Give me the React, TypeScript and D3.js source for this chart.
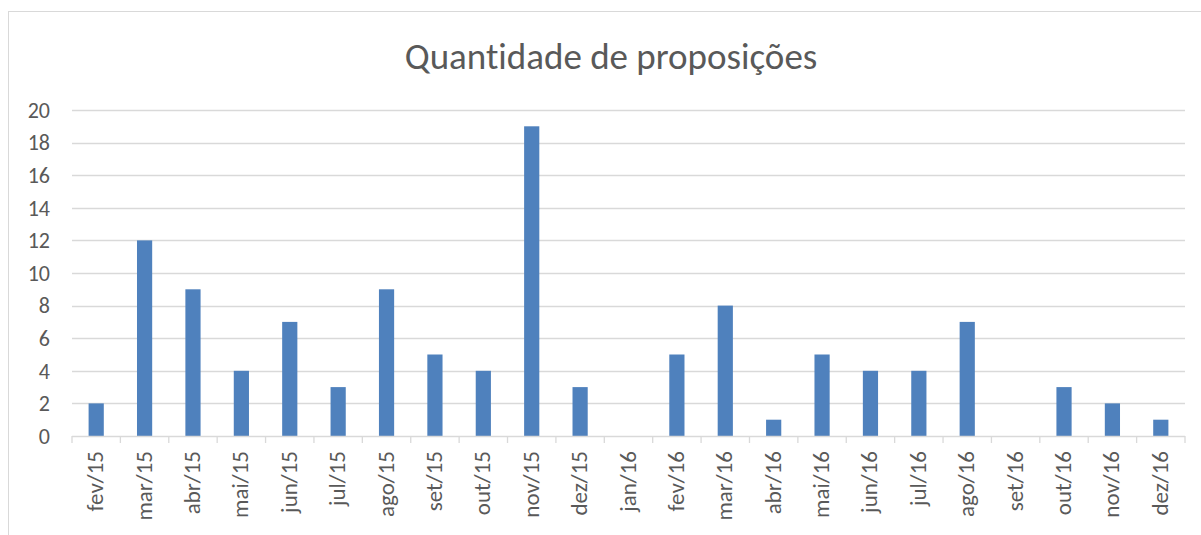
import * as d3 from 'd3'

const months = ['fev/15', 'mar/15', 'abr/15', 'mai/15', 'jun/15', 'jul/15', 'ago/15', 'set/15', 'out/15', 'nov/15', 'dez/15', 'jan/16', 'fev/16', 'mar/16', 'abr/16', 'mai/16', 'jun/16', 'jul/16', 'ago/16', 'set/16', 'out/16', 'nov/16', 'dez/16']
const counts = [2, 12, 9, 4, 7, 3, 9, 5, 4, 19, 3, 0, 5, 8, 1, 5, 4, 4, 7, 0, 3, 2, 1]
const yTicks = [0, 2, 4, 6, 8, 10, 12, 14, 16, 18, 20]
const title = 'Quantidade de proposições'

const font = "Calibri, Carlito, 'Open Sans', sans-serif"

const App = () => {
    const width = 1201
    const height = 535
    const left = 72
    const right = 1185
    const top = 110
    const bottom = 436

    const x = d3.scaleBand<string>()
        .domain(months)
        .range([left, right])
        .paddingInner(0.686)
        .paddingOuter(0.343)

    const xEdge = d3.scaleLinear()
        .domain([0, months.length])
        .range([left, right])

    const y = d3.scaleLinear()
        .domain([0, 20])
        .range([bottom, top])

    return (
        <svg width={width} height={height} style={{ position: 'absolute', left: 0, top: 0, background: '#fff', fontVariantLigatures: 'none' }}>
            <rect x={8.5} y={11.5} width={1300} height={600} fill="#fff" stroke="#D9D9D9" strokeWidth={1} />
            <text x={611} y={69} textAnchor="middle" fontFamily={font} fontSize={37} fill="#595959">{title}</text>
            {yTicks.map(t => (
                <g key={t}>
                    {t > 0 && <line x1={left} x2={right} y1={Math.round(y(t)) + 0.5} y2={Math.round(y(t)) + 0.5} stroke="#D9D9D9" strokeWidth={1.3} />}
                    <text x={50} y={y(t)} dy="0.35em" textAnchor="end" fontFamily={font} fontSize={22} fill="#595959">{t}</text>
                </g>
            ))}
            {counts.map((v, i) => (
                <rect
                    key={months[i]}
                    x={x(months[i])}
                    width={x.bandwidth()}
                    y={y(v)}
                    height={bottom - y(v)}
                    fill="#4F81BD"
                />
            ))}
            <line x1={left} x2={right} y1={bottom + 0.5} y2={bottom + 0.5} stroke="#D9D9D9" strokeWidth={1.3} />
            {d3.range(months.length + 1).map(i => (
                <line key={i} x1={xEdge(i)} x2={xEdge(i)} y1={bottom} y2={bottom + 7} stroke="#D9D9D9" strokeWidth={1.3} />
            ))}
            {months.map(m => {
                const cx = (x(m) ?? 0) + x.bandwidth() / 2
                return (
                    <text
                        key={m}
                        transform={`translate(${cx + 7},451) rotate(-90)`}
                        textAnchor="end"
                        fontFamily={font}
                        fontSize={23}
                        fill="#595959"
                    >{m}</text>
                )
            })}
        </svg>
    )
}

export default App
